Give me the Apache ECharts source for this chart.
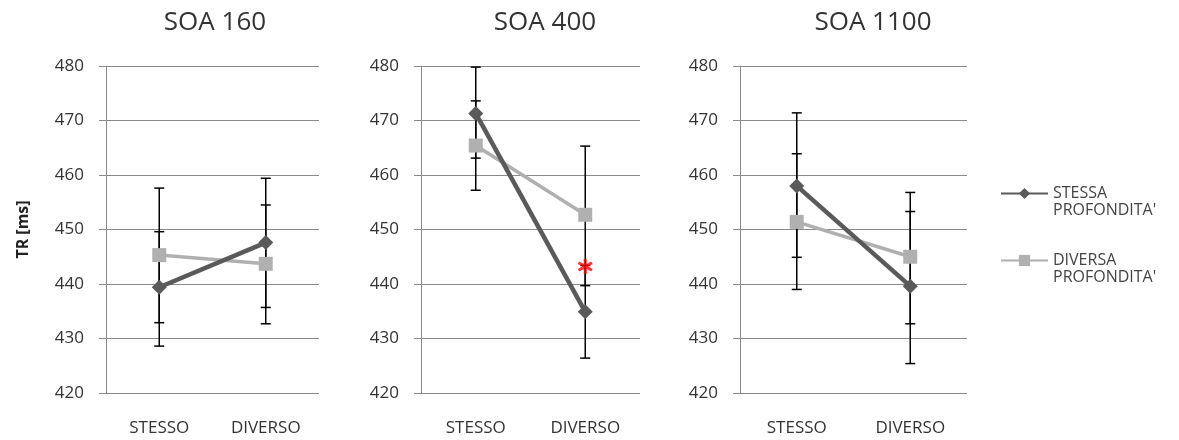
<!DOCTYPE html>
<html>
<head>
<meta charset="utf-8">
<script src="https://cdn.jsdelivr.net/npm/echarts@6/dist/echarts.min.js"></script>
<style>html,body{margin:0;padding:0;background:#fff;}#c{width:1179px;height:440px;}</style>
</head>
<body>
<div id="c"></div>
<script>
// ---- data ----
const categories = ['STESSO', 'DIVERSO'];
const panelTitles = ['SOA 160', 'SOA 400', 'SOA 1100'];
const seriesNames = ["STESSA PROFONDITA'", "DIVERSA PROFONDITA'"];
const yTicks = [420, 430, 440, 450, 460, 470, 480];

// means per panel [STESSO, DIVERSO]
const stessaMean160 = [439.4, 447.6];
const stessaMean400 = [471.3, 434.9];
const stessaMean1100 = [458.0, 439.6];
const diversaMean160 = [445.3, 443.7];
const diversaMean400 = [465.4, 452.7];
const diversaMean1100 = [451.4, 445.0];

// error bars per panel: [low, high] for STESSO, DIVERSO
const stessaErr160 = [[428.6, 449.6], [435.7, 459.4]];
const stessaErr400 = [[463.1, 479.8], [426.4, 443.4]];
const stessaErr1100 = [[444.9, 471.4], [425.4, 453.3]];
const diversaErr160 = [[432.9, 457.6], [432.7, 454.5]];
const diversaErr400 = [[457.2, 473.6], [439.7, 465.3]];
const diversaErr1100 = [[439.0, 463.9], [432.7, 456.8]];

// significance marker: panel index, category index, value
const starMarks = [[1, 1, 443.2]];

// ---- layout/styles ----
const grids = [
  {left: 106, width: 213, top: 66, height: 327},
  {left: 421, width: 219, top: 66, height: 327},
  {left: 740, width: 227, top: 66, height: 327}
];
const titleCenters = [210, 540, 868];
const FONT = '"Open Sans", Lato, sans-serif';
const darkColor = '#5a5a5a';
const lightColor = '#b0b0b0';
const gridColor = '#8a8a8a';

const stessaMeans = [stessaMean160, stessaMean400, stessaMean1100];
const diversaMeans = [diversaMean160, diversaMean400, diversaMean1100];
const stessaErrs = [stessaErr160, stessaErr400, stessaErr1100];
const diversaErrs = [diversaErr160, diversaErr400, diversaErr1100];

function errRender(params, api) {
  const x = api.value(0);
  const lo = api.coord([x, api.value(1)]);
  const hi = api.coord([x, api.value(2)]);
  const hw = 5;
  const st = {stroke: '#000', lineWidth: 1.5};
  return {
    type: 'group',
    children: [
      {type: 'line', shape: {x1: lo[0], y1: lo[1], x2: hi[0], y2: hi[1]}, style: st},
      {type: 'line', shape: {x1: lo[0] - hw, y1: lo[1], x2: lo[0] + hw, y2: lo[1]}, style: st},
      {type: 'line', shape: {x1: hi[0] - hw, y1: hi[1], x2: hi[0] + hw, y2: hi[1]}, style: st}
    ]
  };
}

const starPath = 'path://M0.8 0 L1.2 0 L1.2 2 L0.8 2 Z M1.766 0.327 L1.966 0.673 L0.234 1.673 L0.034 1.327 Z M1.966 1.327 L1.766 1.673 L0.034 0.673 L0.234 0.327 Z';

const option = {
  animation: false,
  backgroundColor: '#fff',
  textStyle: {fontFamily: FONT},
  title: panelTitles.map((t, i) => ({
    text: t, left: titleCenters[i], top: 5, textAlign: 'center',
    textStyle: {fontFamily: FONT, fontSize: 26, fontWeight: 'normal', color: '#333'}
  })),
  legend: {
    orient: 'vertical', left: 1000, top: 168, itemGap: 16, padding: 0,
    itemWidth: 47, itemHeight: 14,
    data: seriesNames,
    formatter: n => '\u00a0\n' + n.replace(' ', '\n'),
    textStyle: {fontFamily: FONT, fontSize: 16, color: '#444', lineHeight: 17}
  },
  grid: grids,
  xAxis: grids.map((g, i) => ({
    type: 'category', gridIndex: i, data: categories, boundaryGap: true,
    axisLine: {show: false}, axisTick: {show: false},
    axisLabel: {fontFamily: FONT, fontSize: 17, color: '#333', margin: 27}
  })),
  yAxis: grids.map((g, i) => ({
    type: 'value', gridIndex: i, min: 420, max: 480, interval: 10,
    name: i === 0 ? 'TR [ms]' : '', nameLocation: 'middle', nameGap: 75, nameRotate: 90,
    nameTextStyle: {fontFamily: FONT, fontSize: 16, fontWeight: 'bold', color: '#222'},
    axisLine: {show: true, lineStyle: {color: gridColor, width: 1}},
    axisTick: {show: true, length: 7, lineStyle: {color: gridColor}},
    splitLine: {show: true, lineStyle: {color: gridColor, width: 1}},
    axisLabel: {fontFamily: FONT, fontSize: 17, color: '#333', margin: 22,
      formatter: v => yTicks.includes(v) ? String(v) : ''}
  })),
  series: []
};

for (let i = 0; i < 3; i++) {
  option.series.push({
    type: 'custom', name: 'errS' + i, xAxisIndex: i, yAxisIndex: i, z: 1,
    renderItem: errRender, encode: {x: 0, y: [1, 2]},
    data: stessaErrs[i].map((e, k) => [k, e[0], e[1]])
  });
  option.series.push({
    type: 'custom', name: 'errD' + i, xAxisIndex: i, yAxisIndex: i, z: 1,
    renderItem: errRender, encode: {x: 0, y: [1, 2]},
    data: diversaErrs[i].map((e, k) => [k, e[0], e[1]])
  });
  option.series.push({
    type: 'line', name: seriesNames[1], xAxisIndex: i, yAxisIndex: i, z: 3,
    data: diversaMeans[i], symbol: 'rect', symbolSize: 14,
    lineStyle: {color: lightColor, width: 3.5}, itemStyle: {color: lightColor}
  });
  option.series.push({
    type: 'line', name: seriesNames[0], xAxisIndex: i, yAxisIndex: i, z: 4,
    data: stessaMeans[i], symbol: 'diamond', symbolSize: [15, 15],
    lineStyle: {color: darkColor, width: 4.5}, itemStyle: {color: darkColor}
  });
}

starMarks.forEach(s => {
  option.series.push({
    type: 'scatter', name: 'sig', xAxisIndex: s[0], yAxisIndex: s[0], z: 6,
    symbol: starPath, symbolSize: 15, itemStyle: {color: '#ff0000'},
    data: [[s[1], s[2]]]
  });
});

const chart = echarts.init(document.getElementById('c'), null, {renderer: 'canvas'});
chart.setOption(option);
</script>
</body>
</html>
